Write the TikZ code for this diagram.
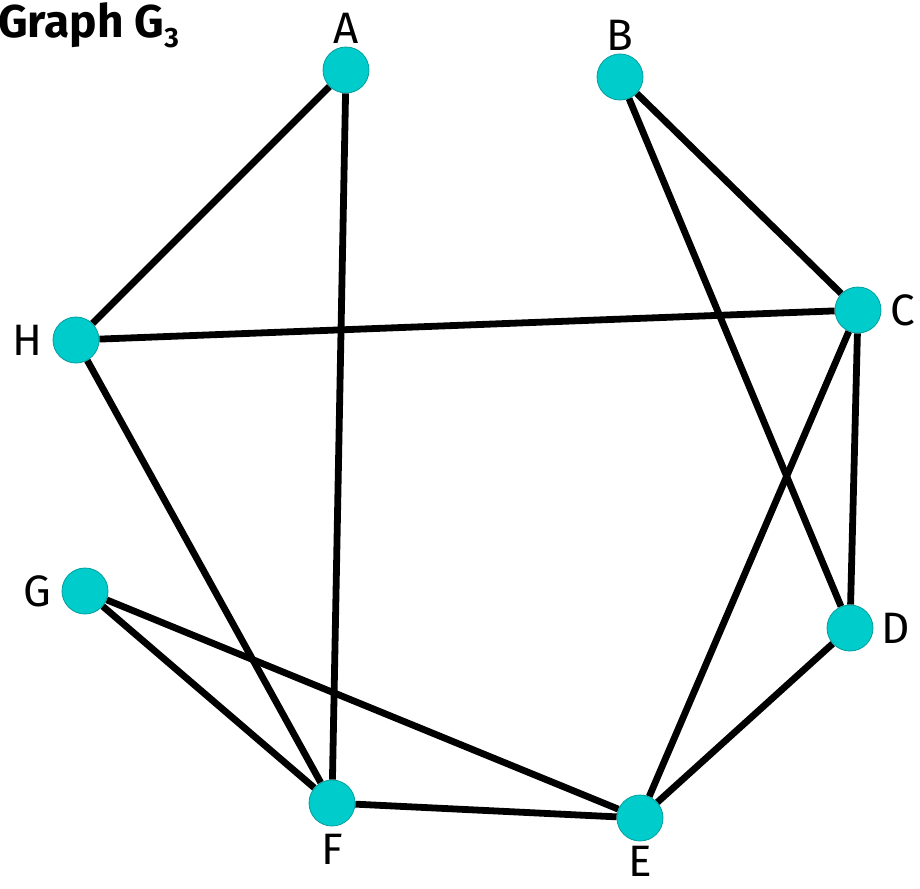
\documentclass[tikz,border=0pt]{standalone}
\usepackage{fontspec}
\setmainfont{Fira Sans}
\definecolor{NodeTeal}{HTML}{00CCCC}
\definecolor{RimTeal}{HTML}{009E9E}
\usetikzlibrary{backgrounds}

\begin{document}
\begin{tikzpicture}[x=1pt, y=-1pt, every node/.style={font=\fontsize{44}{46}\selectfont}]
\tikzset{vertex/.style={circle, draw=RimTeal, line width=0.8pt, fill=NodeTeal, minimum size=46pt, inner sep=0pt, label distance=4pt}}
\tikzset{edge/.style={line width=6.8pt}}
\useasboundingbox (0,0) rectangle (920,888);
\node[anchor=north west, inner sep=0pt, font=\fontsize{46}{48}\selectfont\bfseries] (title) at (-2,2) {Graph G\textsubscript{\fontsize{28}{30}\selectfont 3}};
\node[vertex, label={[inner sep=0pt, label distance=3pt]90:A}] (A) at (346,70) {};
\node[vertex, label={[inner sep=0pt, label distance=3pt]90:B}] (B) at (620,77) {};
\node[vertex, label={[inner sep=0pt, label distance=9pt]0:C}] (C) at (858,310) {};
\node[vertex, label={[inner sep=0pt, label distance=8pt]0:D}] (D) at (850,628) {};
\node[vertex, label={[inner sep=0pt, label distance=5pt]-90:E}] (E) at (640,818) {};
\node[vertex, label={[inner sep=0pt, label distance=8pt]-90:F}] (F) at (332,803) {};
\node[vertex, label={[inner sep=0pt, label distance=10pt]180:G}] (G) at (85,591) {};
\node[vertex, label={[inner sep=0pt, label distance=10pt]180:H}] (H) at (76,340) {};
\begin{scope}[on background layer]
\draw[edge] (A) -- (H);
\draw[edge] (A) -- (F);
\draw[edge] (B) -- (C);
\draw[edge] (B) -- (D);
\draw[edge] (H) -- (C);
\draw[edge] (H) -- (F);
\draw[edge] (C) -- (E);
\draw[edge] (C) -- (D);
\draw[edge] (G) -- (F);
\draw[edge] (G) -- (E);
\draw[edge] (F) -- (E);
\draw[edge] (D) -- (E);
\end{scope}
\end{tikzpicture}
\end{document}
